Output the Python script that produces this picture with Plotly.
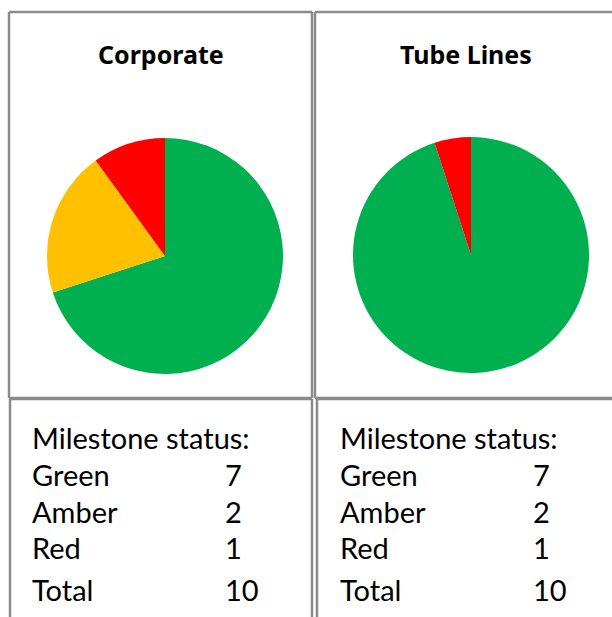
import plotly.graph_objects as go

W, H = 612, 617

# ---- data ----
status_labels = ["Green", "Amber", "Red"]
status_colors = ["#00B050", "#FFC000", "#FF0000"]
panel_titles = ["Corporate", "Tube Lines"]
corporate_pie = [7, 2, 1]
tube_lines_pie = [95, 0, 5]
table_header = "Milestone status:"
corporate_counts = [7, 2, 1]
tube_lines_counts = [7, 2, 1]
total_label = "Total"
corporate_total = 10
tube_lines_total = 10


def px(x):
    return x / W


def py(y):
    return 1 - y / H


fig = go.Figure()

pie_boxes = [(47, 283, 138, 374), (353, 589, 137, 373)]
for vals, (x0, x1, y0, y1) in zip([corporate_pie, tube_lines_pie], pie_boxes):
    fig.add_trace(go.Pie(
        labels=status_labels,
        values=vals,
        marker=dict(colors=status_colors, line=dict(width=0)),
        sort=False,
        direction="clockwise",
        rotation=0,
        textinfo="none",
        showlegend=False,
        domain=dict(x=[px(x0), px(x1)], y=[py(y1), py(y0)]),
    ))

shapes = []
line_col = "#8a8a8a"


def seg(x0, y0, x1, y1, w=2.5):
    shapes.append(dict(type="line", xref="paper", yref="paper",
                       x0=px(x0), y0=py(y0), x1=px(x1), y1=py(y1),
                       line=dict(color=line_col, width=w)))


# top-left cell
seg(9, 12, 312, 12)
seg(9, 12, 9, 398)
seg(312, 12, 312, 398)
seg(9, 398, 312, 398)
# top-right cell
seg(315, 12, 620, 12)
seg(315, 12, 315, 398)
seg(315, 398, 620, 398)
# bottom-left cell
seg(10, 399, 10, 630)
seg(10, 399, 312, 399)
seg(312, 399, 312, 630)
# bottom-right cell
seg(317, 399, 317, 630)
seg(317, 399, 620, 399)

annotations = []
title_font = dict(family="Noto Sans", size=25, color="#000000")
for title, cx in zip(panel_titles, [161, 466]):
    annotations.append(dict(text="<b>" + title + "</b>", x=px(cx), y=py(54),
                            xref="paper", yref="paper", xanchor="center",
                            yanchor="middle", showarrow=False, font=title_font))

tfont = dict(family="Lato", size=29, color="#000000")
row_y = [437, 474, 511, 547, 589]
for x_lab, x_num, counts, total in [(30, 223, corporate_counts, corporate_total),
                                     (338, 531, tube_lines_counts, tube_lines_total)]:
    annotations.append(dict(text=table_header, x=px(x_lab), y=py(row_y[0]),
                            xref="paper", yref="paper", xanchor="left",
                            yanchor="middle", showarrow=False, font=tfont))
    rows = list(zip(status_labels, counts)) + [(total_label, total)]
    for (lab, n), yy in zip(rows, row_y[1:]):
        annotations.append(dict(text=lab, x=px(x_lab), y=py(yy),
                                xref="paper", yref="paper", xanchor="left",
                                yanchor="middle", showarrow=False, font=tfont))
        annotations.append(dict(text=str(n), x=px(x_num), y=py(yy),
                                xref="paper", yref="paper", xanchor="left",
                                yanchor="middle", showarrow=False, font=tfont))

fig.update_layout(
    width=W, height=H,
    margin=dict(l=0, r=0, t=0, b=0),
    paper_bgcolor="white", plot_bgcolor="white",
    shapes=shapes, annotations=annotations,
)

fig.write_html(
    "out.html",
    config={"displayModeBar": False},
    post_script="document.body.style.margin='0';document.body.style.overflow='hidden';",
)
